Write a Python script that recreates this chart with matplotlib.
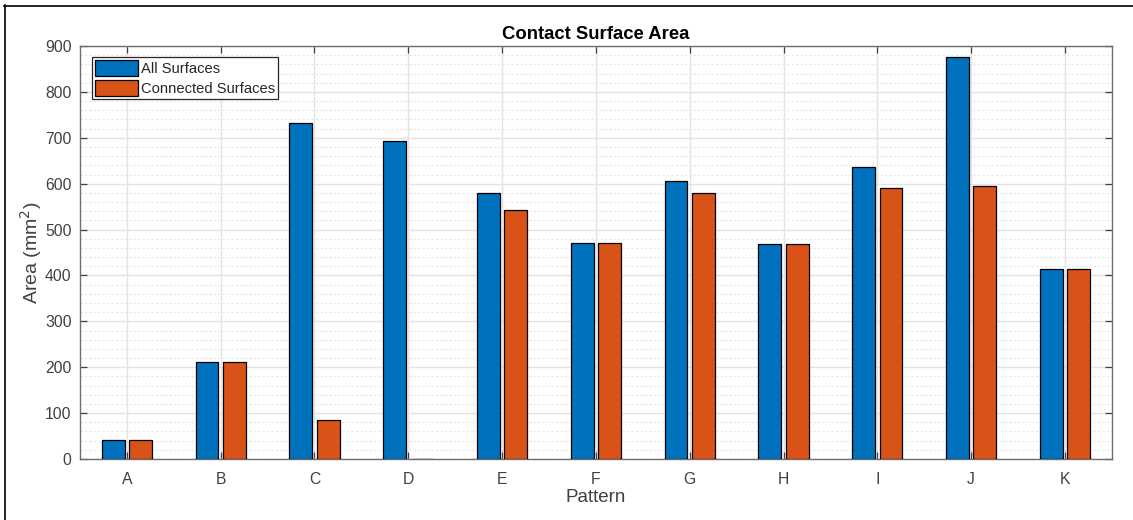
import matplotlib.pyplot as plt
import numpy as np
from matplotlib.ticker import MultipleLocator

# pattern labels and areas (mm^2)
patterns = ['A', 'B', 'C', 'D', 'E', 'F', 'G', 'H', 'I', 'J', 'K']
all_surfaces = [42, 211, 732, 693, 580, 470, 605, 468, 636, 877, 413]
connected_surfaces = [42, 211, 86, 0, 543, 470, 580, 468, 591, 596, 413]

plt.rcParams['font.family'] = ['Liberation Sans', 'DejaVu Sans']

fig = plt.figure(figsize=(11.33, 5.2), dpi=100)
ax = fig.add_axes([0.0706, 0.1173, 0.9107, 0.7942])

x = np.arange(len(patterns))
w = 0.245
off = 0.146
ax.bar(x - off, all_surfaces, w, color='#0072BD', edgecolor='black', linewidth=0.9,
       label='All Surfaces', zorder=3)
ax.bar(x + off, connected_surfaces, w, color='#D95319', edgecolor='black', linewidth=0.9,
       label='Connected Surfaces', zorder=3)

ax.set_xlim(-0.5, len(patterns) - 0.5)
ax.set_ylim(0, 900)
ax.set_xticks(x)
ax.set_xticklabels(patterns)
ax.yaxis.set_major_locator(MultipleLocator(100))
ax.yaxis.set_minor_locator(MultipleLocator(20))

# MATLAB-like grid
ax.grid(True, which='major', color='#e3e3e3', linewidth=1.0, zorder=0)
ax.grid(True, which='minor', axis='y', color='#e6e6e6', linestyle=(0, (2, 2)),
        linewidth=0.8, zorder=0)
ax.set_axisbelow(True)

ax.tick_params(which='major', direction='in', length=5, width=0.9, colors='#404040',
               labelsize=11.3, top=True, right=True)
ax.tick_params(axis='x', pad=9)
ax.tick_params(axis='y', pad=6)
ax.tick_params(which='minor', length=0, top=False, right=False)
for s in ax.spines.values():
    s.set_color('#6e6e6e')
    s.set_linewidth(1.0)

ax.set_title('Contact Surface Area', fontsize=13.3, fontweight='bold', color='black', pad=5)
ax.set_xlabel('Pattern', fontsize=13.5, color='#404040', labelpad=2)
ax.set_ylabel('Area (mm$^2$)', fontsize=14, color='#404040', labelpad=1)

leg = ax.legend(loc='upper left', bbox_to_anchor=(0.0116, 0.973), fontsize=10.6,
                frameon=True, fancybox=False, framealpha=1, edgecolor='#262626',
                handlelength=2.95, handleheight=1.25, handletextpad=0.15,
                borderpad=0.2, labelspacing=0.3, borderaxespad=0.0)
leg.get_frame().set_linewidth(0.9)
for t in leg.get_texts():
    t.set_color('#262626')

# screenshot frame lines (top and left)
fig.add_artist(plt.Line2D([4.5 / 1133, 4.5 / 1133], [0, 1 - 5 / 520], color='black',
                          linewidth=1.2, transform=fig.transFigure))
fig.add_artist(plt.Line2D([4 / 1133, 1], [1 - 5.5 / 520, 1 - 5.5 / 520], color='black',
                          linewidth=1.2, transform=fig.transFigure))

fig.savefig('out.png', dpi=100)
